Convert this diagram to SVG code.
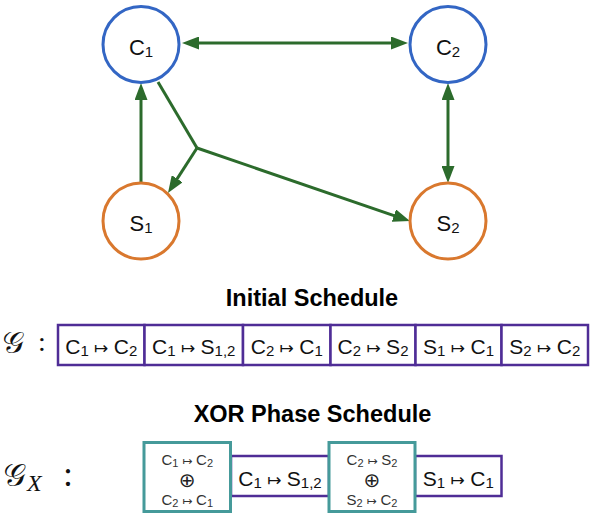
<svg xmlns="http://www.w3.org/2000/svg" width="592" height="517" viewBox="0 0 592 517">
<style>
  .c { fill: #fff; stroke-width: 3; }
  .blue { stroke: #3366c4; }
  .orange { stroke: #d9782e; }
  .edge { fill: none; stroke: #2c6b2c; stroke-width: 3; }
  .lbl { font-family: "Liberation Sans", "DejaVu Sans", sans-serif; font-size: 21px; fill: #111; text-anchor: middle; }
  .node { font-size: 22px; }
  .small { font-family: "Liberation Sans", "DejaVu Sans", sans-serif; font-size: 15px; fill: #333; text-anchor: middle; }
  .sub { font-size: 15px; }
  .small .sub { font-size: 11px; }
  .arr { font-family: "DejaVu Sans", sans-serif; font-size: 17px; }
  .small .arr { font-size: 12px; }
  .title { font-family: "Liberation Sans", Arial, sans-serif; font-size: 23.5px; font-weight: bold; fill: #000; text-anchor: middle; }
  .pbox { fill: #fff; stroke: #4f2d96; stroke-width: 2.5; }
  .tbox { fill: #fff; stroke: #459a9a; stroke-width: 3; }
  .math { font-family: "DejaVu Serif", "Noto Sans Math", "Liberation Serif", serif; fill: #111; }
  .it { font-family: "Liberation Serif", serif; font-style: italic; fill: #111; }
  .colon { font-family: "Liberation Serif", serif; fill: #111; text-anchor: middle; }
  .oplus { font-family: "DejaVu Sans", sans-serif; font-size: 20px; fill: #222; text-anchor: middle; }
</style>
<defs>
  <marker id="ah" markerUnits="userSpaceOnUse" markerWidth="17" markerHeight="13" refX="7" refY="6.5" orient="auto-start-reverse">
    <path d="M0,0 L17,6.5 L0,13 z" fill="#2c6b2c"/>
  </marker>
</defs>

<g id="connectors">
  <line class="edge" x1="192" y1="43" x2="398" y2="43" marker-start="url(#ah)" marker-end="url(#ah)"/>
  <line class="edge" x1="448" y1="93" x2="448" y2="173" marker-start="url(#ah)" marker-end="url(#ah)"/>
  <line class="edge" x1="141" y1="183" x2="141" y2="93" marker-end="url(#ah)"/>
  <polyline class="edge" points="158,82 197,148"/>
  <line class="edge" x1="197" y1="148" x2="173.4" y2="184.6" marker-end="url(#ah)"/>
  <line class="edge" x1="197" y1="148" x2="400.5" y2="217.8" marker-end="url(#ah)"/>
</g>

<g id="node-C1">
  <circle class="c blue" cx="141" cy="44.5" r="38"/>
  <text class="lbl node" x="141" y="55">C<tspan class="sub" dy="2">1</tspan></text>
</g>
<g id="node-C2">
  <circle class="c blue" cx="448" cy="44.5" r="38"/>
  <text class="lbl node" x="448" y="55">C<tspan class="sub" dy="2">2</tspan></text>
</g>
<g id="node-S1">
  <circle class="c orange" cx="141" cy="221" r="38"/>
  <text class="lbl node" x="141" y="231">S<tspan class="sub" dy="2">1</tspan></text>
</g>
<g id="node-S2">
  <circle class="c orange" cx="448" cy="221" r="38"/>
  <text class="lbl node" x="448" y="231">S<tspan class="sub" dy="2">2</tspan></text>
</g>

<text class="title" x="312" y="306">Initial Schedule</text>

<g id="label-G">
  <text class="math" x="3" y="353" font-size="29">𝒢</text>
  <text class="colon" x="42" y="351" font-size="28">:</text>
</g>

<g id="sched-1">
  <rect class="pbox" x="58" y="325" width="86.5" height="40"/>
  <text class="lbl" x="101.25" y="354">C<tspan class="sub" dy="2">1</tspan><tspan class="arr" dy="-2"> ↦ </tspan>C<tspan class="sub" dy="2">2</tspan></text>
</g>
<g id="sched-2">
  <rect class="pbox" x="144.5" y="325" width="98.5" height="40"/>
  <text class="lbl" x="193.75" y="354">C<tspan class="sub" dy="2">1</tspan><tspan class="arr" dy="-2"> ↦ </tspan>S<tspan class="sub" dy="2">1,2</tspan></text>
</g>
<g id="sched-3">
  <rect class="pbox" x="243" y="325" width="87.5" height="40"/>
  <text class="lbl" x="286.75" y="354">C<tspan class="sub" dy="2">2</tspan><tspan class="arr" dy="-2"> ↦ </tspan>C<tspan class="sub" dy="2">1</tspan></text>
</g>
<g id="sched-4">
  <rect class="pbox" x="330.5" y="325" width="85" height="40"/>
  <text class="lbl" x="373" y="354">C<tspan class="sub" dy="2">2</tspan><tspan class="arr" dy="-2"> ↦ </tspan>S<tspan class="sub" dy="2">2</tspan></text>
</g>
<g id="sched-5">
  <rect class="pbox" x="415.5" y="325" width="86" height="40"/>
  <text class="lbl" x="458.5" y="354">S<tspan class="sub" dy="2">1</tspan><tspan class="arr" dy="-2"> ↦ </tspan>C<tspan class="sub" dy="2">1</tspan></text>
</g>
<g id="sched-6">
  <rect class="pbox" x="501.5" y="325" width="86.5" height="40"/>
  <text class="lbl" x="544.75" y="354">S<tspan class="sub" dy="2">2</tspan><tspan class="arr" dy="-2"> ↦ </tspan>C<tspan class="sub" dy="2">2</tspan></text>
</g>

<text class="title" x="312.5" y="422">XOR Phase Schedule</text>

<g id="label-GX">
  <text class="math" x="4" y="486" font-size="30">𝒢</text>
  <text class="it" x="27" y="491" font-size="24">X</text>
  <text class="colon" x="68" y="486" font-size="36">:</text>
</g>

<g id="xsched-2">
  <rect class="pbox" x="231" y="456" width="98" height="40"/>
  <text class="lbl" x="280" y="486">C<tspan class="sub" dy="2">1</tspan><tspan class="arr" dy="-2"> ↦ </tspan>S<tspan class="sub" dy="2">1,2</tspan></text>
</g>
<g id="xsched-4">
  <rect class="pbox" x="415" y="456" width="86.5" height="40"/>
  <text class="lbl" x="458.25" y="486">S<tspan class="sub" dy="2">1</tspan><tspan class="arr" dy="-2"> ↦ </tspan>C<tspan class="sub" dy="2">1</tspan></text>
</g>
<g id="xsched-1">
  <rect class="tbox" x="144" y="442.5" width="86.5" height="69"/>
  <text class="small" x="187.25" y="465">C<tspan class="sub" dy="1.5">1</tspan><tspan class="arr" dy="-1.5"> ↦ </tspan>C<tspan class="sub" dy="1.5">2</tspan></text>
  <text class="oplus" x="187.25" y="487">⊕</text>
  <text class="small" x="187.25" y="505">C<tspan class="sub" dy="1.5">2</tspan><tspan class="arr" dy="-1.5"> ↦ </tspan>C<tspan class="sub" dy="1.5">1</tspan></text>
</g>
<g id="xsched-3">
  <rect class="tbox" x="329" y="442.5" width="86" height="69"/>
  <text class="small" x="372" y="465">C<tspan class="sub" dy="1.5">2</tspan><tspan class="arr" dy="-1.5"> ↦ </tspan>S<tspan class="sub" dy="1.5">2</tspan></text>
  <text class="oplus" x="372" y="487">⊕</text>
  <text class="small" x="372" y="505">S<tspan class="sub" dy="1.5">2</tspan><tspan class="arr" dy="-1.5"> ↦ </tspan>C<tspan class="sub" dy="1.5">2</tspan></text>
</g>
</svg>
